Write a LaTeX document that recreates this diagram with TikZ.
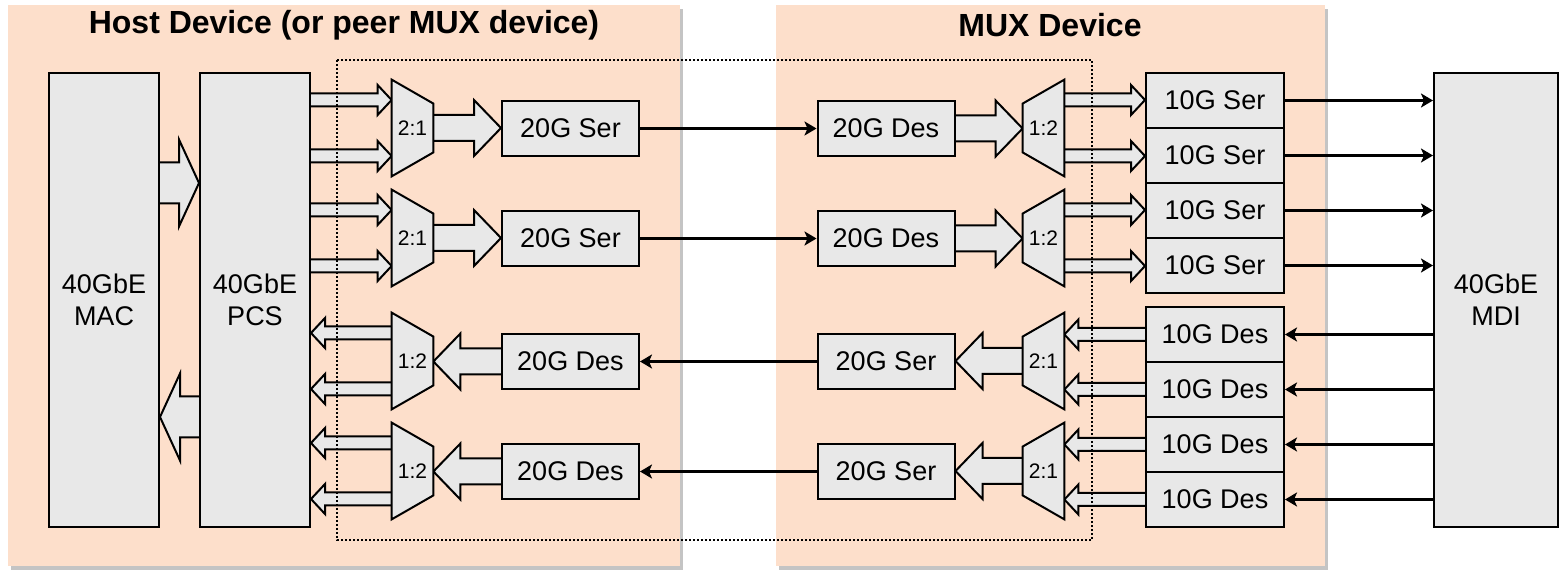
\documentclass[tikz,border=0pt]{standalone}
\usepackage{fontspec}
\setmainfont{Liberation Sans}
\usetikzlibrary{calc,arrows.meta}

\definecolor{panelfill}{HTML}{FDDFCB}
\definecolor{boxgrey}{HTML}{E8E8E8}
\definecolor{shadowgrey}{HTML}{C4C4C4}

\pgfdeclarelayer{back}
\pgfdeclarelayer{mid}
\pgfdeclarelayer{front}
\pgfsetlayers{back,mid,main,front}

\newcommand{\lblfont}{\fontsize{13.5}{16}\selectfont}
\newcommand{\muxfont}{\fontsize{10.5}{12}\selectfont}
\newcommand{\titlefont}{\bfseries\fontsize{16}{19}\selectfont}

% block arrow: start, tip, shaft half width, head half width, head length
\newcommand{\fatarrow}[5]{%
  \path[pipe] let \p1=#1, \p2=#2, \n1={ifthenelse(\x2>\x1,1,-1)} in
    (\x1,\y1+#3) -- ({\x2-\n1*#5},\y1+#3) -- ({\x2-\n1*#5},\y1+#4)
    -- (\x2,\y1) -- ({\x2-\n1*#5},\y1-#4) -- ({\x2-\n1*#5},\y1-#3) -- (\x1,\y1-#3);}
\newcommand{\lanearrow}[2]{\fatarrow{#1}{#2}{3.25pt}{7.5pt}{7pt}}
\newcommand{\busarrow}[2]{\fatarrow{#1}{#2}{6.5pt}{14pt}{13.5pt}}

\begin{document}
\begin{tikzpicture}[x=0.5pt,y=-0.5pt,
  blk/.style={draw,line width=1pt,fill=boxgrey,inner sep=0pt,font=\lblfont,align=center},
  tall/.style={blk,minimum width=55pt,minimum height=227pt},
  ser/.style={blk,minimum width=68.5pt,minimum height=27.5pt},
  lane/.style={blk,minimum width=69pt,minimum height=27.5pt},
  mux/.style={inner sep=0pt,minimum width=20.5pt,minimum height=48pt,font=\muxfont},
  muxshape/.style={draw,line width=1pt,fill=boxgrey,line join=miter},
  pipe/.style={draw,line width=1pt,fill=boxgrey,line join=miter},
  link/.style={line width=1.5pt,-{Stealth[length=6pt,width=7pt,inset=1.5pt]}},
  title/.style={font=\titlefont},
  dotbox/.style={line width=0.9pt,dash pattern=on 0.9pt off 1.1pt}]
\useasboundingbox (0,0) rectangle (1564,571);

\begin{pgfonlayer}{back}
\fill[shadowgrey] (11,9) rectangle (683,570);
\fill[panelfill] (8,5) rectangle (680,566);
\fill[shadowgrey] (779,9) rectangle (1328,570);
\fill[panelfill] (776,5) rectangle (1325,566);
\end{pgfonlayer}

\node[title] (hosttitle) at (344,25) {Host Device (or peer MUX device)};
\node[title] (muxtitle) at (1050,25) {MUX Device};

% host device
\node[tall] (mac) at (104,300) {40GbE\\MAC};
\node[tall] (pcs) at (255,300) {40GbE\\PCS};
\node[mux] (hm1) at (412.5,128) {2:1};
\node[mux] (hm2) at (412.5,238) {2:1};
\node[mux] (hx1) at (412.5,361) {1:2};
\node[mux] (hx2) at (412.5,471) {1:2};
\node[ser] (hs1) at (570.5,128.5) {20G Ser};
\node[ser] (hs2) at (570.5,238.5) {20G Ser};
\node[ser] (hd1) at (570.5,361.5) {20G Des};
\node[ser] (hd2) at (570.5,471.5) {20G Des};

% mux device
\node[ser] (md1) at (886,128.5) {20G Des};
\node[ser] (md2) at (886,238.5) {20G Des};
\node[ser] (ms1) at (886,361.5) {20G Ser};
\node[ser] (ms2) at (886,471.5) {20G Ser};
\node[mux] (mx1) at (1043.5,128) {1:2};
\node[mux] (mx2) at (1043.5,238) {1:2};
\node[mux] (mm1) at (1043.5,361) {2:1};
\node[mux] (mm2) at (1043.5,471) {2:1};
\node[lane] (ts1) at (1215,100.5) {10G Ser};
\node[lane] (ts2) at (1215,155.5) {10G Ser};
\node[lane] (ts3) at (1215,210.5) {10G Ser};
\node[lane] (ts4) at (1215,265.5) {10G Ser};
\node[lane] (td1) at (1215,334.5) {10G Des};
\node[lane] (td2) at (1215,389.5) {10G Des};
\node[lane] (td3) at (1215,444.5) {10G Des};
\node[lane] (td4) at (1215,499.5) {10G Des};
\node[tall,minimum width=62pt] (mdi) at (1496,300) {40GbE\\MDI};

% mux lanes
\coordinate (hm1a) at ([yshift=14pt]hm1.west);
\coordinate (hm1b) at ([yshift=-14pt]hm1.west);
\coordinate (hm2a) at ([yshift=14pt]hm2.west);
\coordinate (hm2b) at ([yshift=-14pt]hm2.west);
\coordinate (hx1a) at ([yshift=14pt]hx1.west);
\coordinate (hx1b) at ([yshift=-14pt]hx1.west);
\coordinate (hx2a) at ([yshift=14pt]hx2.west);
\coordinate (hx2b) at ([yshift=-14pt]hx2.west);
\coordinate (mx1a) at ([yshift=14pt]mx1.east);
\coordinate (mx1b) at ([yshift=-14pt]mx1.east);
\coordinate (mx2a) at ([yshift=14pt]mx2.east);
\coordinate (mx2b) at ([yshift=-14pt]mx2.east);
\coordinate (mm1a) at ([yshift=14pt]mm1.east);
\coordinate (mm1b) at ([yshift=-14pt]mm1.east);
\coordinate (mm2a) at ([yshift=14pt]mm2.east);
\coordinate (mm2b) at ([yshift=-14pt]mm2.east);

\begin{pgfonlayer}{mid}
% mac <-> pcs
\fatarrow{([yshift=58.5pt]mac.east)}{(pcs.west)}{10.25pt}{21.75pt}{10pt}
\fatarrow{([yshift=-58.5pt]pcs.west)}{(mac.east)}{10.25pt}{21.75pt}{10pt}
% host transmit
\lanearrow{(pcs.east |- hm1a)}{(hm1a)}
\lanearrow{(pcs.east |- hm1b)}{(hm1b)}
\lanearrow{(pcs.east |- hm2a)}{(hm2a)}
\lanearrow{(pcs.east |- hm2b)}{(hm2b)}
\busarrow{(hm1.east)}{(hs1.west)}
\busarrow{(hm2.east)}{(hs2.west)}
% host receive
\busarrow{(hd1.west)}{(hx1.east)}
\busarrow{(hd2.west)}{(hx2.east)}
\lanearrow{(hx1a)}{(pcs.east)}
\lanearrow{(hx1b)}{(pcs.east)}
\lanearrow{(hx2a)}{(pcs.east)}
\lanearrow{(hx2b)}{(pcs.east)}
% mux transmit
\busarrow{(md1.east)}{(mx1.west)}
\busarrow{(md2.east)}{(mx2.west)}
\lanearrow{(mx1a)}{(ts1.west)}
\lanearrow{(mx1b)}{(ts2.west)}
\lanearrow{(mx2a)}{(ts3.west)}
\lanearrow{(mx2b)}{(ts4.west)}
% mux receive
\lanearrow{(td1.west)}{(mm1a)}
\lanearrow{(td2.west)}{(mm1b)}
\lanearrow{(td3.west)}{(mm2a)}
\lanearrow{(td4.west)}{(mm2b)}
\busarrow{(mm1.west)}{(ms1.east)}
\busarrow{(mm2.west)}{(ms2.east)}

% mux bodies
\draw[muxshape] (hm1.north west) -- (hm1.south west) -- ([yshift=12pt]hm1.south east) -- ([yshift=-12pt]hm1.north east) -- cycle;
\draw[muxshape] (hm2.north west) -- (hm2.south west) -- ([yshift=12pt]hm2.south east) -- ([yshift=-12pt]hm2.north east) -- cycle;
\draw[muxshape] (hx1.north west) -- (hx1.south west) -- ([yshift=12pt]hx1.south east) -- ([yshift=-12pt]hx1.north east) -- cycle;
\draw[muxshape] (hx2.north west) -- (hx2.south west) -- ([yshift=12pt]hx2.south east) -- ([yshift=-12pt]hx2.north east) -- cycle;
\draw[muxshape] (mx1.north east) -- (mx1.south east) -- ([yshift=12pt]mx1.south west) -- ([yshift=-12pt]mx1.north west) -- cycle;
\draw[muxshape] (mx2.north east) -- (mx2.south east) -- ([yshift=12pt]mx2.south west) -- ([yshift=-12pt]mx2.north west) -- cycle;
\draw[muxshape] (mm1.north east) -- (mm1.south east) -- ([yshift=12pt]mm1.south west) -- ([yshift=-12pt]mm1.north west) -- cycle;
\draw[muxshape] (mm2.north east) -- (mm2.south east) -- ([yshift=12pt]mm2.south west) -- ([yshift=-12pt]mm2.north west) -- cycle;
\end{pgfonlayer}

% serial links
\draw[link] (hs1.east) -- (md1.west);
\draw[link] (hs2.east) -- (md2.west);
\draw[link] (ms1.west) -- (hd1.east);
\draw[link] (ms2.west) -- (hd2.east);
\draw[link] (ts1.east) -- (ts1.east -| mdi.west);
\draw[link] (ts2.east) -- (ts2.east -| mdi.west);
\draw[link] (ts3.east) -- (ts3.east -| mdi.west);
\draw[link] (ts4.east) -- (ts4.east -| mdi.west);
\draw[link] (td1.east -| mdi.west) -- (td1.east);
\draw[link] (td2.east -| mdi.west) -- (td2.east);
\draw[link] (td3.east -| mdi.west) -- (td3.east);
\draw[link] (td4.east -| mdi.west) -- (td4.east);

\begin{pgfonlayer}{front}
\draw[dotbox] (337,60) rectangle (1092,540);
\end{pgfonlayer}
\end{tikzpicture}
\end{document}
